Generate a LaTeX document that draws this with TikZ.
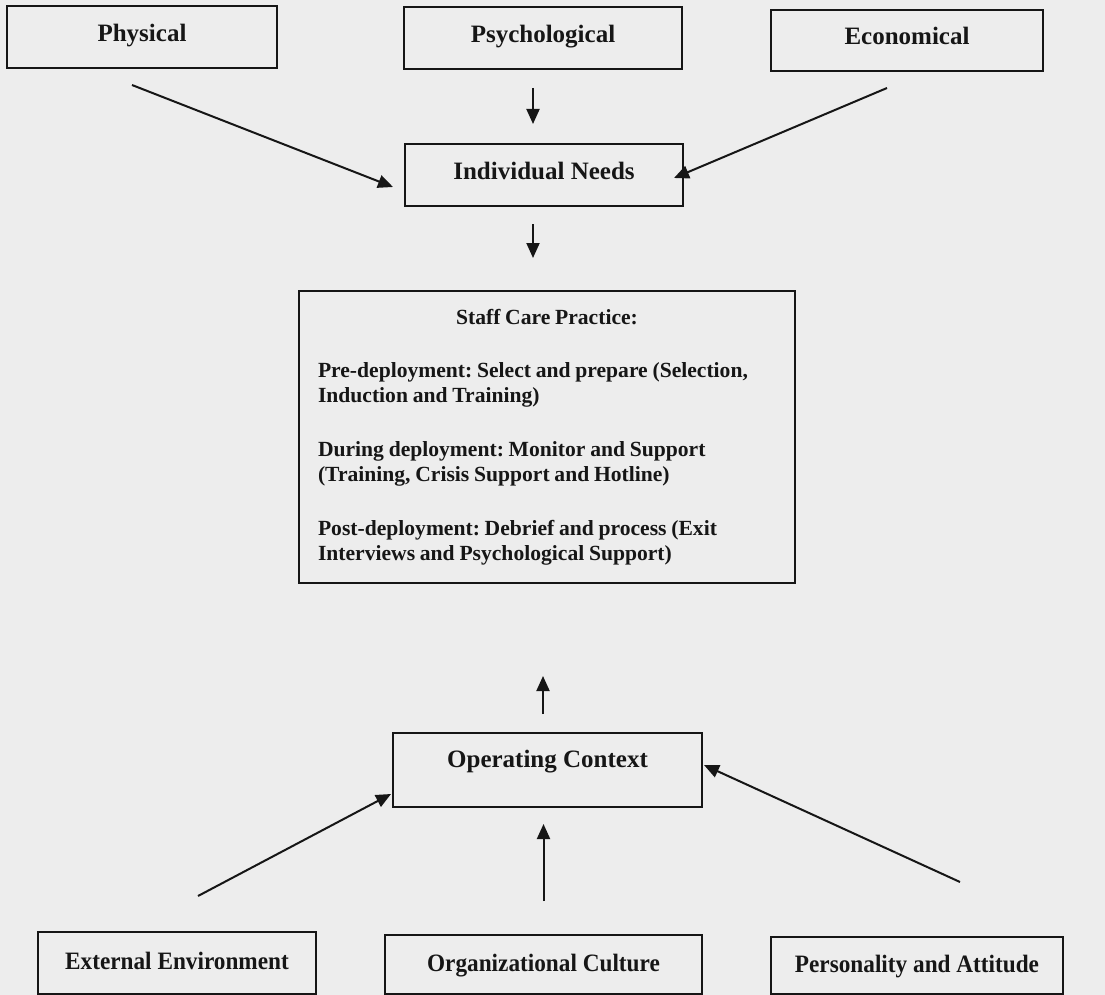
\documentclass[tikz,border=0pt]{standalone}
\usepackage{fontspec}
\setmainfont{Liberation Serif}
\newfontfamily\narrowfont[FakeStretch=0.93]{Liberation Serif}
\usetikzlibrary{arrows.meta,calc}
\definecolor{bg}{RGB}{237,237,237}
\definecolor{ink}{RGB}{22,22,22}
\newcommand\tightspacing{\frenchspacing\spaceskip=0.22em\relax}
\begin{document}
\begin{tikzpicture}[x=1pt,y=-1pt,
  box/.style={draw=ink, line width=2pt, inner sep=0pt, text=ink,
    font=\fontsize{25}{30}\selectfont\bfseries, text height=17pt, text depth=8pt},
  lowbox/.style={draw=ink, line width=2pt, inner sep=0pt, text=ink,
    font=\narrowfont\fontsize{25}{30}\selectfont\bfseries, text height=17pt, text depth=4pt},
  arr/.style={draw=ink, line width=2pt, -{Triangle[length=15pt,width=13pt]}},
]
\fill[bg] (0,0) rectangle (1105,995);
\useasboundingbox (0,0) rectangle (1105,995);

% top row
\node[box, minimum width=270pt, minimum height=62pt] (phys) at (142,37) {Physical};
\node[box, minimum width=278pt, minimum height=62pt] (psy) at (543,38) {Psychological};
\node[box, minimum width=272pt, minimum height=61pt] (eco) at (907,40.5) {Economical};

% individual needs
\node[box, minimum width=278pt, minimum height=62pt] (need) at (544,175) {Individual Needs};

% staff care practice
\node[draw=ink, line width=2pt, text=ink, inner xsep=19pt, inner ysep=0pt,
      text width=458pt, minimum height=292pt,
      font=\fontsize{21.6}{25}\selectfont\bfseries] (staff) at (547,437)
  {\tightspacing
   {\centering Staff Care Practice:\par}
   \vspace{28pt}
   {\raggedright Pre-deployment: Select and prepare (Selection,\\Induction and Training)\par}
   \vspace{29pt}
   {\raggedright During deployment: Monitor and Support\\(Training, Crisis Support and Hotline)\par}
   \vspace{29pt}
   {\raggedright Post-deployment: Debrief and process (Exit\\Interviews and Psychological Support)\par}};

% operating context
\node[box, minimum width=309pt, minimum height=74pt, text depth=22pt] (op) at (547.5,770) {Operating Context};

% bottom row
\node[lowbox, minimum width=278pt, minimum height=62pt] (ext) at (177,963) {External Environment};
\node[lowbox, minimum width=317pt, minimum height=59pt] (org) at (543.5,964.5) {Organizational Culture};
\node[lowbox, minimum width=292pt, minimum height=57pt] (pers) at (917,965.5) {Personality and Attitude};

% free ends of connectors
\coordinate (physT) at (132,85);
\coordinate (psyT) at ($(psy.south)+(-10,18)$);
\coordinate (ecoT) at (887,88);
\coordinate (needT) at ($(need.south)+(-11,17)$);
\coordinate (opT) at ($(op.north)+(-4.5,-18)$);
\coordinate (extT) at ($(ext.north)+(21,-35)$);
\coordinate (orgT) at ($(org.north)+(0,-33)$);
\coordinate (persT) at ($(pers.north)+(43,-54)$);

% connectors
\draw[arr] (physT) -- ($(need.west)+(-11,12)$);
\draw[arr] (psyT) -- ($(need.north)+(-11,-19)$);
\draw[arr] (ecoT) -- ($(need.east)+(-10,3)$);
\draw[arr] (needT) -- ($(staff.north)+(-14,-32)$);
\draw[arr] (opT) -- ($(staff.south)+(-4,92)$);
\draw[arr] (extT) -- ($(op.south west)+(-1,-14)$);
\draw[arr] (orgT) -- ($(op.south)+(-4,16)$);
\draw[arr] (persT) -- ($(op.east)+(1,-5)$);
\end{tikzpicture}
\end{document}
